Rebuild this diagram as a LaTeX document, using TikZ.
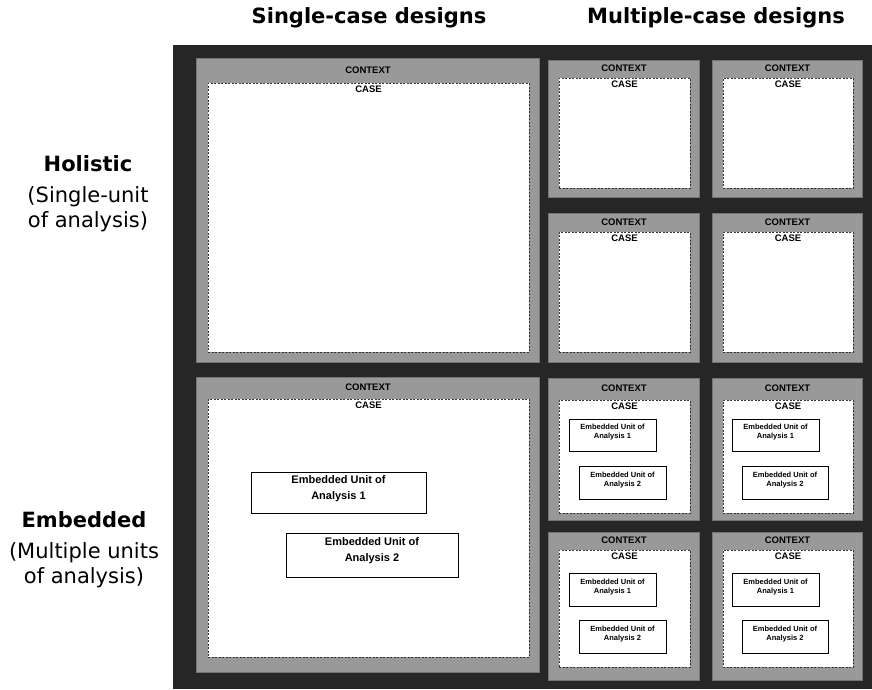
\documentclass[tikz,border=0pt]{standalone}
\usepackage{fontspec}
\setmainfont{DejaVu Sans}
\newfontfamily\boxfont{Liberation Sans}
\usetikzlibrary{positioning, fit, calc}

\begin{document}
\begin{tikzpicture}[
    x=1pt, y=-1pt,
    frame/.style={rectangle, fill=black!85, draw=none, inner sep=0pt},
    context/.style={rectangle, fill=black!40, draw=black!55, inner sep=0pt},
    casebox/.style={rectangle, fill=white, draw=black!80, line width=0.9pt, dash pattern=on 2pt off 1.5pt, inner sep=0pt},
    unitbox/.style={rectangle, fill=white, draw=black, line width=1pt, inner sep=0pt, align=center, font=\boxfont\bfseries\fontsize{7.5}{9}\selectfont},
    bigunit/.style={unitbox, font=\boxfont\bfseries\fontsize{11}{16}\selectfont},
    ctxlabel/.style={inner sep=0pt, font=\boxfont\bfseries\fontsize{9.5}{10}\selectfont},
    header/.style={font=\bfseries\fontsize{21}{25}\selectfont},
    rowlabel/.style={align=center, font=\fontsize{21}{25}\selectfont}
]

\useasboundingbox (0,0) rectangle (872,689);

% Column headers
\node[header] (single) at (369,18) {Single-case designs};
\node[header] (multi) at (716,18) {Multiple-case designs};

% Row labels
\node[rowlabel] (holistic) at (88,194) {\textbf{Holistic}\\[6pt](Single-unit\\of analysis)};
\node[rowlabel] (embedded) at (84,550) {\textbf{Embedded}\\[6pt](Multiple units\\of analysis)};

% Dark frame
\node[frame, fit={(173,45) (872,689)}] (grid) {};

% Holistic, single case
\node[context, fit={(196,58) (539,362)}] (hsctx) {};
\node[casebox, fit={(208,83) (529,352)}] (hscase) {};
\node[ctxlabel] (hsctxl) at ($(hsctx.north)!0.5!(hscase.north)$) {CONTEXT};
\node[ctxlabel, below=3pt of hscase.north] (hscasel) {CASE};

% Holistic, multiple cases
\node[context, fit={(548,60) (699,197)}] (hmctxa) {};
\node[casebox, fit={(559,78) (690,188)}] (hmcasea) {};
\node[ctxlabel] (hmctxla) at ($(hmctxa.north)!0.5!(hmcasea.north)$) {CONTEXT};
\node[ctxlabel, below=3pt of hmcasea.north] (hmcasela) {CASE};

\node[context, fit={(712,60) (862,197)}] (hmctxb) {};
\node[casebox, fit={(723,78) (853,188)}] (hmcaseb) {};
\node[ctxlabel] (hmctxlb) at ($(hmctxb.north)!0.5!(hmcaseb.north)$) {CONTEXT};
\node[ctxlabel, below=3pt of hmcaseb.north] (hmcaselb) {CASE};

\node[context, fit={(548,213) (699,362)}] (hmctxc) {};
\node[casebox, fit={(559,232) (690,352)}] (hmcasec) {};
\node[ctxlabel] (hmctxlc) at ($(hmctxc.north)!0.5!(hmcasec.north)$) {CONTEXT};
\node[ctxlabel, below=3pt of hmcasec.north] (hmcaselc) {CASE};

\node[context, fit={(712,213) (862,362)}] (hmctxd) {};
\node[casebox, fit={(723,232) (853,352)}] (hmcased) {};
\node[ctxlabel] (hmctxld) at ($(hmctxd.north)!0.5!(hmcased.north)$) {CONTEXT};
\node[ctxlabel, below=3pt of hmcased.north] (hmcaseld) {CASE};

% Embedded, single case
\node[context, fit={(196,377) (539,672)}] (esctx) {};
\node[casebox, fit={(208,399) (529,657)}] (escase) {};
\node[ctxlabel] (esctxl) at ($(esctx.north)!0.5!(escase.north)$) {CONTEXT};
\node[ctxlabel, below=3pt of escase.north] (escasel) {CASE};
\node[bigunit, fit={(251,472) (426,513)}] (esunita) {Embedded Unit of\\Analysis 1};
\node[bigunit, fit={(286,533) (458,577)}] (esunitb) {Embedded Unit of\\Analysis 2};

% Embedded, multiple cases
\node[context, fit={(548,378) (699,520)}] (emctxa) {};
\node[casebox, fit={(559,400) (690,513)}] (emcasea) {};
\node[ctxlabel] (emctxla) at ($(emctxa.north)!0.5!(emcasea.north)$) {CONTEXT};
\node[ctxlabel, below=3pt of emcasea.north] (emcasela) {CASE};
\node[unitbox, fit={(569,419) (656,451)}] (emunitaa) {Embedded Unit of\\Analysis 1};
\node[unitbox, fit={(579,466) (666,499)}] (emunitab) {Embedded Unit of\\Analysis 2};

\node[context, fit={(712,378) (862,520)}] (emctxb) {};
\node[casebox, fit={(723,400) (853,513)}] (emcaseb) {};
\node[ctxlabel] (emctxlb) at ($(emctxb.north)!0.5!(emcaseb.north)$) {CONTEXT};
\node[ctxlabel, below=3pt of emcaseb.north] (emcaselb) {CASE};
\node[unitbox, fit={(732,419) (819,451)}] (emunitba) {Embedded Unit of\\Analysis 1};
\node[unitbox, fit={(742,466) (828,499)}] (emunitbb) {Embedded Unit of\\Analysis 2};

\node[context, fit={(548,532) (699,680)}] (emctxc) {};
\node[casebox, fit={(559,550) (690,667)}] (emcasec) {};
\node[ctxlabel] (emctxlc) at ($(emctxc.north)!0.5!(emcasec.north)$) {CONTEXT};
\node[ctxlabel, below=3pt of emcasec.north] (emcaselc) {CASE};
\node[unitbox, fit={(569,573) (656,606)}] (emunitca) {Embedded Unit of\\Analysis 1};
\node[unitbox, fit={(579,620) (666,653)}] (emunitcb) {Embedded Unit of\\Analysis 2};

\node[context, fit={(712,532) (862,680)}] (emctxd) {};
\node[casebox, fit={(723,550) (853,667)}] (emcased) {};
\node[ctxlabel] (emctxld) at ($(emctxd.north)!0.5!(emcased.north)$) {CONTEXT};
\node[ctxlabel, below=3pt of emcased.north] (emcaseld) {CASE};
\node[unitbox, fit={(732,573) (819,606)}] (emunitda) {Embedded Unit of\\Analysis 1};
\node[unitbox, fit={(742,620) (828,653)}] (emunitdb) {Embedded Unit of\\Analysis 2};

\end{tikzpicture}
\end{document}
